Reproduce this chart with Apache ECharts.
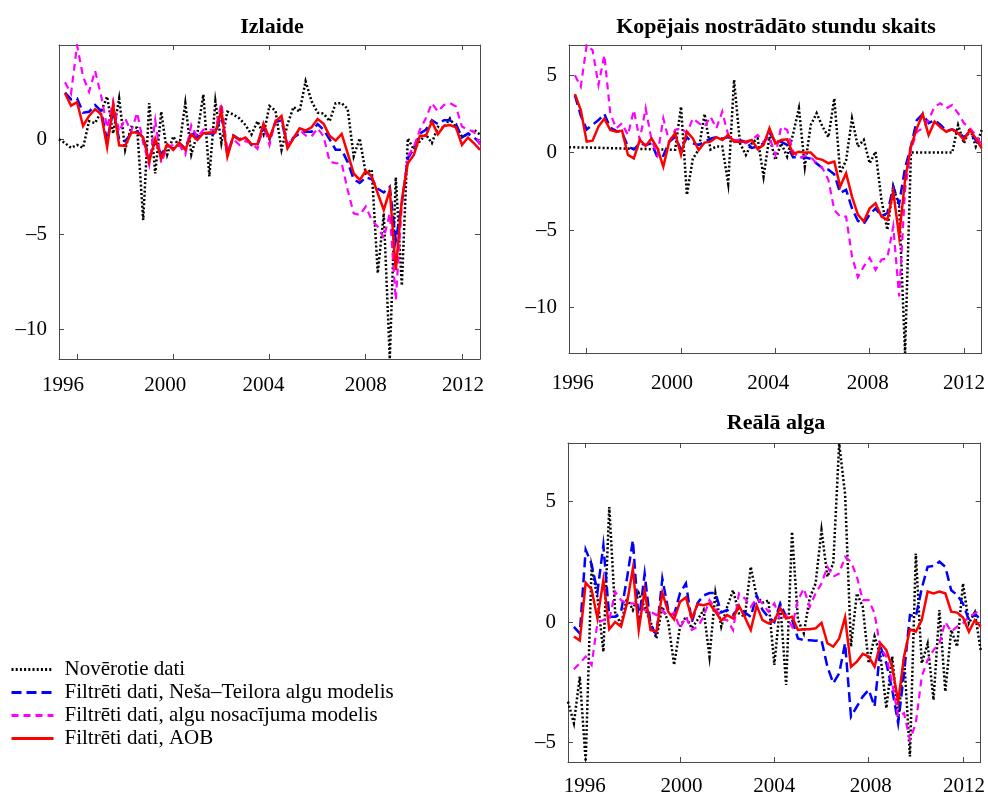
<!DOCTYPE html>
<html><head><meta charset="utf-8">
<script src="https://cdn.jsdelivr.net/npm/echarts@6/dist/echarts.min.js"></script>
<style>html,body{margin:0;padding:0;background:#fff}#chart{width:988px;height:804px}</style>
</head><body><div id="chart"></div>
<script>
// Quarterly data, 1995 Q2 ... 2012 Q4 (71 quarters)
const firstQuarterYear = 1995.25;
const quarterCount = 71;
const quarterYears = [];
for (let i = 0; i < quarterCount; i++) quarterYears.push(firstQuarterYear + i * 0.25);

const yearTicks = [1996, 2000, 2004, 2008, 2012];
const seriesNames = ['Novērotie dati', 'Filtrēti dati, Neša–Teilora algu modelis', 'Filtrēti dati, algu nosacījuma modelis', 'Filtrēti dati, AOB'];
const panelTitles = ['Izlaide', 'Kopējais nostrādāto stundu skaits', 'Reālā alga'];
const yTicksOutput = [-10, -5, 0];
const yTicksHours = [-10, -5, 0, 5];
const yTicksWage = [-5, 0, 5];

// Izlaide
const outputObserved = [0, -0.2, -0.45, -0.3, -0.45, 0.95, 0.85, 1.45, 2.25, 0.3,
  2.15, -0.55, 0.65, 0.6, -4.25, 1.9, -1.8, 1.45, -0.8, 0.15,
  -0.4, 1.9, -0.8, 0.3, 2.35, -1.95, 2.0, -0.2, 1.45, 1.3,
  1.1, 0.75, 0.25, 0.95, 0.25, 1.75, 1.5, -0.55, 0.8, 1.7,
  1.45, 3.05, 2.0, 1.4, 1.35, 0.95, 1.9, 1.9, 1.6, -0.9,
  0.05, -1.8, -1.6, -7.05, -3.9, -11.56, -2.0, -7.7, 0.05, -0.55,
  -0.1, 0.25, -0.2, 0.65, 0.6, 1.1, 0.6, 0.15, 0.25, 0.5, 0.25];
const outputNT = [null, 2.45, 2.1, 2.15, 1.4, 1.45, 1.8, 1.5, -0.1, 1.5,
  0.0, -0.1, 0.3, 0.4, 0.1, -1.0, -0.1, -0.8, -0.3, -0.5,
  -0.2, -0.5, 0.4, 0.1, 0.3, 0.3, 0.3, 1.3, -0.8, 0.2,
  0.0, 0.1, -0.3, -0.3, 0.6, 0.0, 0.9, 1.0, -0.4, 0.1,
  0.3, 0.4, 0.4, 0.8, 0.5, 0.0, -0.55, -0.55, -1.2, -2.1,
  -2.3, -2.0, -2.1, -2.6, -2.8, -2.5, -5.3, -3.4, -1.0, -0.5,
  0.3, 0.5, 1.0, 0.8, 1.0, 1.0, 0.8, 0.1, 0.3, 0.1, -0.2];
const outputNotice = [null, 3.0, 2.4, 4.95, 3.3, 2.5, 3.6, 2.3, 0.6, 2.0,
  0.4, 1.1, 0.4, 1.4, -0.2, -1.35, 1.0, -1.25, -0.4, -0.3,
  -0.3, -0.8, 0.75, 0.1, 0.5, 0.5, 0.5, 1.9, -0.6, 0.0,
  -0.3, -0.1, -0.2, -0.5, 0.8, -0.3, 1.0, 1.1, -0.3, 0.1,
  0.5, 0.2, 0.15, 0.58, 0.15, -1.18, -1.26, -1.26, -2.67, -3.9,
  -3.98, -3.54, -4.25, -4.6, -5.2, -3.9, -8.46, -3.4, -0.9, -0.4,
  0.5, 1.1, 1.9, 1.46, 1.8, 1.9, 1.72, 0.67, 0.5, 0.4, -0.3];
const outputAOB = [null, 2.42, 1.77, 1.95, 0.7, 1.23, 1.58, 1.33, -0.42, 1.81,
  -0.32, -0.35, 0.35, 0.35, 0.1, -1.18, 0.02, -1.0, -0.26, -0.56,
  -0.18, -0.56, 0.26, -0.04, 0.32, 0.35, 0.35, 1.54, -0.91, 0.18,
  -0.04, 0.09, -0.25, -0.26, 0.81, 0.05, 0.93, 1.23, -0.47, 0.05,
  0.58, 0.46, 0.63, 1.07, 0.81, 0.18, -0.07, 0.28, -0.74, -1.79,
  -2.14, -1.67, -1.96, -2.84, -3.72, -2.67, -6.88, -3.19, -1.26, -0.82,
  0.18, 0.18, 0.93, 0.26, 0.7, 0.75, 0.63, -0.3, 0.09, -0.21, -0.56];

// Kopējais nostrādāto stundu skaits
const hoursObserved = [0.35, 0.34, 0.33, 0.33, 0.32, 0.31, 0.3, 0.29, 0.28, 0.27,
  0.26, 0.25, 0.24, 0.23, 0.22, 0.21, 0.2, 0.19, 0.18, 2.97,
  -2.73, -0.4, 0.2, 2.5, 0.2, 0.4, 0.4, -2.0, 4.7, 0.6,
  -0.15, 0.6, 0.92, -1.55, 1.03, -0.47, 0.6, -0.26, 1.2, 2.86,
  -0.9, 1.78, 2.54, 1.68, 1.0, 3.5, -1.33, -0.5, 2.2, 0.39,
  0.82, -0.69, 0.06, -3.05, -4.99, -2.19, -3.5, -12.94, 0.0, 0.0,
  0.0, 0.0, 0.0, 0.0, 0.0, 0.0, 1.78, 0.6, 1.57, 0.4, 1.46];
const hoursNT = [null, 3.7, 2.4, 1.5, 1.8, 2.1, 2.5, 1.6, 1.4, 1.3,
  0.4, 0.2, 0.6, 0.5, 0.6, -0.3, -0.2, 0.7, 1.0, 0.2,
  1.0, 0.6, 0.5, 0.7, 0.9, 1.0, 0.9, 1.0, 0.8, 0.8,
  0.7, 0.3, 0.4, 0.6, 1.3, 0.7, 0.7, 0.5, -0.3, -0.3,
  -0.3, -0.4, -0.7, -1.0, -1.1, -1.4, -2.6, -2.4, -3.6, -4.4,
  -4.6, -4.0, -3.6, -4.1, -3.9, -2.2, -3.3, -1.0, 0.4, 2.1,
  2.5, 1.9, 2.1, 1.8, 1.4, 1.5, 1.3, 1.0, 1.3, 0.8, 0.4];
const hoursNotice = [null, 5.0, 4.26, 6.95, 6.62, 4.37, 6.3, 2.54, 1.57, 1.9,
  1.14, 2.75, 0.82, 2.86, 0.82, -0.15, 2.21, 0.7, 1.46, 1.57,
  1.25, 2.21, 1.9, 1.68, 2.32, 1.57, 2.65, 1.14, 0.82, 0.8,
  0.6, 0.82, 1.14, 0.7, 1.0, -0.15, 1.68, 1.46, 0.1, -0.37,
  -0.2, -0.3, -0.69, -1.0, -1.76, -3.7, -4.13, -4.13, -6.7, -8.04,
  -7.35, -6.8, -7.57, -6.92, -6.8, -4.77, -9.29, -2.4, 0.17, 1.35,
  1.57, 2.1, 2.97, 3.18, 2.86, 3.08, 2.54, 1.9, 1.57, 1.14, 0.49];
const hoursAOB = [null, 3.78, 2.75, 0.71, 0.77, 1.68, 2.2, 1.46, 1.35, 1.42,
  -0.15, -0.37, 0.82, 0.43, 0.92, 0.28, -0.9, 0.71, 1.25, -0.15,
  1.35, 0.92, 0.17, 0.65, 0.71, 1.0, 0.82, 1.14, 0.71, 0.71,
  0.71, 0.82, 0.22, 0.5, 1.57, 0.6, 0.82, 0.86, -0.09, 0.06,
  0.0, 0.0, -0.37, -0.47, -0.69, -0.58, -2.19, -1.33, -2.84, -4.0,
  -4.45, -3.6, -3.27, -4.13, -4.34, -2.52, -5.42, -1.76, 0.39, 1.57,
  2.49, 1.14, 2.0, 1.63, 1.35, 1.5, 1.25, 0.82, 1.46, 0.92, 0.28];

// Reālā alga
const wageObserved = [-3.3, -4.19, -2.26, -5.78, 2.29, 1.0, -1.23, 4.77, 0.4, -0.1,
  1.0, 0.5, 1.2, 0.6, 0.0, -0.68, 0.63, 0.0, -1.78, -0.19,
  0.22, -0.26, 0.1, 0.5, -1.43, 1.19, -0.19, 0.63, 1.32, 0.36,
  0.22, 2.29, 1.05, 0.8, 0.9, -1.78, 0.77, -2.61, 3.74, 0.1,
  -0.47, 1.0, 1.6, 3.81, 1.88, 2.43, 7.39, 5.3, -1.02, 1.19,
  0.63, -1.71, -0.6, -1.4, -3.57, -1.43, -4.05, -1.43, -5.57, 2.84,
  -1.71, -0.9, -3.23, 0.5, -2.88, -0.33, -1.02, 1.6, -0.05, 0.4, -1.16];
const wageNT = [null, -0.2, -0.47, 3.0, 2.4, 1.25, 3.18, 0.22, 0.22, 0.43,
  1.8, 3.39, 0.0, 2.0, -0.1, -0.55, 1.8, 0.5, 0.3, 1.2,
  1.6, 0.0, 0.8, 1.1, 1.2, 1.2, 0.4, 0.5, 0.3, 0.6,
  0.4, 0.22, 1.1, 0.5, 0.2, 0.0, 0.77, 0.22, 0.1, -0.68,
  -0.75, -0.75, -0.77, -0.75, -1.85, -2.54, -2.12, -0.88, -3.92, -3.5,
  -3.09, -2.81, -3.5, -1.02, -1.71, -2.81, -4.19, -2.12, 0.29, 0.22,
  1.39, 2.29, 2.32, 2.5, 2.29, 1.32, 1.12, 0.77, 0.08, 0.36, 0.08];
const wageNotice = [null, -1.96, -1.71, -1.43, -1.78, -0.03, 0.08, 0.08, 1.26, 0.91,
  0.77, 0.77, 0.7, 0.5, 0.43, 0.29, 0.5, 0.22, 0.39, -0.26,
  0.22, -0.33, -0.19, 0.22, 0.91, 0.57, 0.15, 0.08, -0.33, 1.19,
  0.98, 0.63, 0.98, 0.77, 0.43, 0.77, 0.08, 0.29, -0.19, 0.91,
  1.39, 0.63, 1.19, 1.6, 2.29, 1.88, 2.01, 2.7, 2.5, 1.88,
  0.91, 0.91, 0.36, -1.09, -1.43, -2.54, -3.92, -3.78, -4.88, -4.19,
  -2.26, -1.57, -1.16, -0.88, 0.01, -0.4, -0.19, -0.05, 0.22, 0.36, 0.5];
const wageAOB = [null, -0.6, -0.77, 1.63, 1.35, 0.15, 1.74, -0.3, 0.0, -0.19,
  0.77, 2.22, -0.33, 1.32, -0.33, -0.4, 1.21, 0.43, 0.11, 0.84,
  1.02, 0.15, 0.74, 0.7, 0.77, 0.43, 0.06, 0.29, 0.15, 0.68,
  0.2, -0.33, 0.68, 0.08, -0.05, 0.06, 0.57, 0.15, 0.22, -0.33,
  -0.3, -0.3, -0.26, -0.03, -0.88, -1.02, -0.68, 0.19, -1.85, -1.64,
  -1.32, -1.43, -1.85, -0.88, -1.16, -1.88, -3.3, -1.43, -0.3, -0.4,
  0.08, 1.26, 1.19, 1.26, 1.19, 0.43, 0.39, 0.19, -0.4, 0.08, -0.19];

const FONT = 'Liberation Serif';
const axisColor = '#4a4a4a';

const panels = [
  { title: panelTitles[0], data: [outputObserved, outputNT, outputNotice, outputAOB], ticks: yTicksOutput, yMin: -11.56, yMax: 4.96,
    grid: { left: 59, top: 45, width: 421, height: 314 }, titleX: 272, titleY: 16, labelMargin: 15.5,
    labelShift: [-14, -8, -6, 0, 1] },
  { title: panelTitles[1], data: [hoursObserved, hoursNT, hoursNotice, hoursAOB], ticks: yTicksHours, yMin: -12.94, yMax: 6.95,
    grid: { left: 569, top: 45, width: 414, height: 308 }, titleX: 776, titleY: 16, labelMargin: 20,
    labelShift: [-14, -9, -7, -2, 0] },
  { title: panelTitles[2], data: [wageObserved, wageNT, wageNotice, wageAOB], ticks: yTicksWage, yMin: -5.8, yMax: 7.42,
    grid: { left: 568, top: 443, width: 416, height: 319 }, titleX: 776, titleY: 412, labelMargin: 14,
    labelShift: [-1, 1.5, 0, 2, 1] }
];

const lineStyles = [
  { color: '#000000', width: 2.5, type: [2, 2.2] },
  { color: '#0000ff', width: 2.5, type: [10, 5] },
  { color: '#ff00ff', width: 2.2, type: [7, 5] },
  { color: '#ff0000', width: 2.5, type: 'solid' }
];

const grids = [], xAxes = [], yAxes = [], series = [], titles = [];

panels.forEach((p, gi) => {
  grids.push(Object.assign({ containLabel: false, show: false }, p.grid));
  titles.push({ text: p.title, left: p.titleX, top: p.titleY, textAlign: 'center', padding: 0,
    textStyle: { fontFamily: FONT, fontWeight: 'bold', fontSize: 22, color: '#000' } });
  const rich = {};
  yearTicks.forEach((yr, k) => {
    const d = p.labelShift[k];
    rich['s' + k] = { fontFamily: FONT, fontSize: 21, color: '#000',
      padding: d < 0 ? [0, -2 * d, 0, 0] : [0, 0, 0, 2 * d] };
  });
  const xBase = { type: 'value', gridIndex: gi, min: 1995.25, max: 2012.75,
    axisLine: { show: true, onZero: false, lineStyle: { color: axisColor, width: 1 } },
    axisTick: { show: true, inside: true, length: 5, customValues: yearTicks, lineStyle: { color: axisColor } },
    splitLine: { show: false } };
  xAxes.push(Object.assign({}, xBase, { position: 'bottom',
    axisLabel: { show: true, customValues: yearTicks, margin: p.labelMargin, fontFamily: FONT, fontSize: 21, color: '#000',
      rich: rich,
      formatter: v => { const k = yearTicks.indexOf(Math.round(v)); return '{s' + k + '|' + Math.round(v) + '}'; } } }));
  xAxes.push(Object.assign({}, xBase, { position: 'top', axisLabel: { show: false } }));
  const yBase = { type: 'value', gridIndex: gi, min: p.yMin, max: p.yMax,
    axisLine: { show: true, onZero: false, lineStyle: { color: axisColor, width: 1 } },
    axisTick: { show: true, inside: true, length: 5, customValues: p.ticks, lineStyle: { color: axisColor } },
    splitLine: { show: false } };
  yAxes.push(Object.assign({}, yBase, { position: 'left',
    axisLabel: { show: true, customValues: p.ticks, margin: 12, fontFamily: FONT, fontSize: 21, color: '#000',
      formatter: v => String(v).replace('-', '\u2013') } }));
  yAxes.push(Object.assign({}, yBase, { position: 'right', axisLabel: { show: false } }));
  p.data.forEach((arr, si) => {
    series.push({
      name: seriesNames[si], type: 'line', xAxisIndex: gi * 2, yAxisIndex: gi * 2,
      data: quarterYears.map((x, i) => [x, arr[i]]),
      symbol: 'none', connectNulls: false, animation: false, z: 2 + si,
      lineStyle: Object.assign({ cap: 'butt', join: 'miter' }, lineStyles[si]),
      itemStyle: { color: lineStyles[si].color },
      clip: true
    });
  });
});

const chart = echarts.init(document.getElementById('chart'), null, { renderer: 'canvas' });
chart.setOption({
  backgroundColor: '#ffffff',
  animation: false,
  title: titles,
  grid: grids,
  xAxis: xAxes,
  yAxis: yAxes,
  legend: {
    data: seriesNames, orient: 'vertical', left: 10, top: 659, padding: 0,
    itemWidth: 42, itemHeight: 14, itemGap: 2,
    itemStyle: { opacity: 0, borderWidth: 0 },
    lineStyle: { width: 3 },
    textStyle: { fontFamily: FONT, fontSize: 21, color: '#000', padding: [0, 0, 0, 6] },
    selectedMode: false
  },
  series: series
});
</script></body></html>
